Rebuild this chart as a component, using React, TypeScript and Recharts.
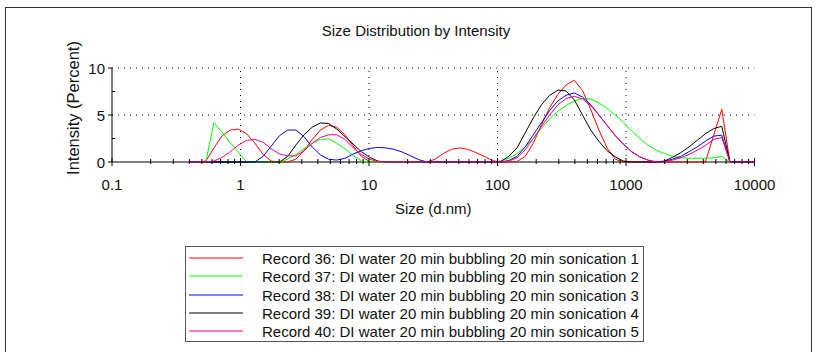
import React from 'react';
import { LineChart, Line, XAxis, YAxis, ReferenceLine, Legend, Label } from 'recharts';

// Size classes (d.nm) of the distribution
const sizes = [
  0.4, 0.4632, 0.5365, 0.6213, 0.7195, 0.8332, 0.9649, 1.117, 1.294, 1.499,
  1.736, 2.01, 2.328, 2.696, 3.122, 3.615, 4.187, 4.849, 5.615, 6.503,
  7.531, 8.721, 10.1, 11.7, 13.54, 15.69, 18.17, 21.04, 24.36, 28.21,
  32.67, 37.84, 43.82, 50.75, 58.77, 68.06, 78.82, 91.28, 105.7, 122.4,
  141.8, 164.2, 190.1, 220.2, 255, 295.3, 342, 396.1, 458.7, 531.2,
  615.1, 712.4, 825, 955.4, 1106, 1281, 1484, 1718, 1990, 2305,
  2669, 3091, 3580, 4145, 4801, 5560, 6439, 7456, 8635, 10000,
];

// Intensity (%) per size class for each record
const record36 = [
  0, 0, 0.1, 1.5, 2.8, 3.4, 3.5, 3.0, 2.0, 0.8,
  0.1, 0, 0, 0.3, 1.2, 2.4, 3.4, 3.9, 3.7, 2.9,
  1.7, 0.6, 0.05, 0, 0, 0, 0, 0, 0, 0,
  0.3, 0.9, 1.35, 1.5, 1.35, 1.0, 0.6, 0.15, 0, 0,
  0.05, 0.6, 2.0, 4.0, 5.8, 7.2, 8.2, 8.7, 7.6, 5.6,
  3.4, 1.5, 0.3, 0, 0, 0, 0, 0, 0, 0,
  0, 0, 0, 0, 2.8, 5.6, 0, 0, 0, 0,
];
const record37 = [
  0, 0, 0, 4.2, 3.15, 2.05, 1.0, 0, 0, 0,
  0, 0, 0.3, 0.8, 1.4, 2.0, 2.4, 2.45, 2.0, 1.4,
  0.7, 0.1, 0, 0, 0, 0, 0, 0, 0, 0,
  0, 0, 0, 0, 0, 0, 0, 0, 0.1, 0.4,
  0.9, 1.6, 2.5, 3.6, 4.6, 5.4, 6.0, 6.5, 6.75, 6.7,
  6.3, 5.7, 5.0, 4.2, 3.3, 2.5, 1.8, 1.25, 0.9, 0.6,
  0.45, 0.4, 0.4, 0.4, 0.45, 0.6, 0, 0, 0, 0,
];
const record38 = [
  0, 0, 0, 0, 0, 0, 0, 0, 0, 0.6,
  1.7, 2.8, 3.4, 3.4, 2.7, 1.6, 0.75, 0.3, 0.2, 0.4,
  0.85, 1.2, 1.45, 1.55, 1.5, 1.35, 1.05, 0.65, 0.25, 0,
  0, 0, 0, 0, 0, 0, 0, 0, 0, 0.15,
  0.6, 1.6, 2.9, 4.2, 5.5, 6.5, 7.1, 7.35, 6.9, 6.1,
  5.0, 3.9, 2.8, 1.9, 1.1, 0.55, 0.2, 0, 0.05, 0.3,
  0.6, 1.1, 1.6, 2.2, 2.75, 2.85, 0, 0, 0, 0,
];
const record39 = [
  0, 0, 0, 0, 0, 0, 0, 0, 0, 0,
  0, 0, 0.6, 1.8, 2.9, 3.7, 4.15, 4.1, 3.5, 2.7,
  1.9, 1.1, 0.5, 0.1, 0, 0, 0, 0, 0, 0,
  0, 0, 0, 0, 0, 0, 0, 0, 0.05, 0.6,
  1.5, 3.1, 4.7, 6.1, 7.1, 7.65, 7.55, 6.6, 5.0, 3.4,
  2.2, 1.2, 0.55, 0.1, 0, 0, 0, 0, 0.1, 0.5,
  1.0, 1.6, 2.3, 3.0, 3.55, 3.8, 0, 0, 0, 0,
];
const record40 = [
  0, 0, 0, 0.1, 0.5, 1.1, 1.8, 2.3, 2.4, 2.1,
  1.4, 0.85, 0.65, 0.65, 1.2, 2.0, 2.6, 2.9, 2.9, 2.4,
  1.5, 0.8, 0.3, 0.05, 0, 0, 0, 0, 0, 0,
  0, 0, 0, 0, 0, 0, 0, 0, 0, 0.1,
  0.45, 1.3, 2.5, 3.8, 5.0, 6.1, 6.75, 7.0, 6.7, 6.0,
  5.0, 3.9, 2.8, 1.85, 1.1, 0.55, 0.2, 0, 0, 0.2,
  0.45, 0.8, 1.25, 1.75, 2.4, 2.6, 0, 0, 0, 0,
];

const seriesNames = [
  'Record 36: DI water 20 min bubbling 20 min sonication 1',
  'Record 37: DI water 20 min bubbling 20 min sonication 2',
  'Record 38: DI water 20 min bubbling 20 min sonication 3',
  'Record 39: DI water 20 min bubbling 20 min sonication 4',
  'Record 40: DI water 20 min bubbling 20 min sonication 5',
];
const seriesKeys = ['r36', 'r37', 'r38', 'r39', 'r40'];
const seriesColors = ['#ff0000', '#00ff00', '#0000ff', '#000000', '#ff0080'];

const xMajorTicks = [0.1, 1, 10, 100, 1000, 10000];
const xMinorSteps = [2, 3, 4, 5, 6, 7, 8, 9];
const xGridLines = [1, 10, 100, 1000];
const yMajorTicks = [0, 5, 10];
const yMinorTicks = [2.5, 7.5];
const yGridLines = [5, 10];

const rows = sizes.map((size, i) => ({
  size,
  r36: record36[i],
  r37: record37[i],
  r38: record38[i],
  r39: record39[i],
  r40: record40[i],
}));

const xTicks = [
  ...xMajorTicks,
  ...xMajorTicks.slice(0, -1).flatMap((d) => xMinorSteps.map((s) => +(d * s).toPrecision(3))),
].sort((a, b) => a - b);
const yTicks = [...yMajorTicks, ...yMinorTicks].sort((a, b) => a - b);

const FONT = '"Liberation Sans", Arial, sans-serif';
const TEXT = '#111';

// layer hints (ignored by Recharts builds without z-index support)
const under = { zIndex: 100 } as any;
const axisLayer = { zIndex: 300 } as any;
const over = { zIndex: 600 } as any;

const XTick = (props: any) => {
  const { x, y, payload } = props;
  const major = xMajorTicks.includes(payload.value);
  return (
    <g>
      {major ? (
        <line x1={x} x2={x} y1={y - 4} y2={y + 4} stroke="#000" />
      ) : (
        <line x1={x} x2={x} y1={y - 3} y2={y + 2} stroke="#000" />
      )}
      {major && (
        <text x={x} y={y + 22} textAnchor="middle" dominantBaseline="central" fontSize={15} fontFamily={FONT} fill={TEXT}>
          {payload.value}
        </text>
      )}
    </g>
  );
};

const YTick = (props: any) => {
  const { x, y, payload } = props;
  const major = yMajorTicks.includes(payload.value);
  return (
    <g>
      {major ? (
        <line x1={x - 4} x2={x} y1={y} y2={y} stroke="#000" />
      ) : (
        <line x1={x} x2={x + 3} y1={y} y2={y} stroke="#000" />
      )}
      {major && (
        <text x={x - 7} y={y} textAnchor="end" dominantBaseline="central" fontSize={15} fontFamily={FONT} fill={TEXT}>
          {payload.value}
        </text>
      )}
    </g>
  );
};

const LegendBox = () => (
  <div
    style={{
      position: 'relative',
      width: 457,
      height: 94,
      border: '1px solid #555',
      background: '#fff',
      fontFamily: FONT,
      fontSize: 15,
      color: TEXT,
    }}
  >
    {seriesNames.map((name, i) => (
      <div key={name} style={{ position: 'absolute', left: 0, top: Math.round(11 + i * 18.25) - 9, height: 18, width: 457 }}>
        <svg width={60} height={18} style={{ position: 'absolute', left: 0, top: 0 }}>
          <line x1={3} x2={57} y1={9} y2={9} stroke={seriesColors[i]} strokeWidth={1} />
        </svg>
        <span style={{ position: 'absolute', left: 76, top: 0, lineHeight: '19px', whiteSpace: 'nowrap' }}>{name}</span>
      </div>
    ))}
  </div>
);

export default function App() {
  return (
    <div style={{ position: 'absolute', left: 0, top: 0, width: 818, height: 352, background: '#fff', overflow: 'hidden' }}>
      <div
        style={{
          position: 'absolute',
          left: 5,
          top: 7,
          width: 807,
          height: 360,
          border: '1px solid #333',
          boxSizing: 'border-box',
        }}
      />
      <div
        style={{
          position: 'absolute',
          left: 0,
          width: 832,
          top: 22,
          textAlign: 'center',
          fontFamily: FONT,
          fontSize: 15,
          color: TEXT,
          lineHeight: '18px',
        }}
      >
        Size Distribution by Intensity
      </div>
      <div style={{ position: 'absolute', left: 0, top: 0 }}>
        <LineChart width={818} height={352} data={rows} margin={{ top: 68, right: 63.5, bottom: 160, left: 52 }}>
          {xGridLines.map((v) => (
            <ReferenceLine key={`gx${v}`} x={v} stroke="#000" strokeDasharray="1 5" {...under} />
          ))}
          {yGridLines.map((v) => (
            <ReferenceLine key={`gy${v}`} y={v} stroke="#000" strokeDasharray="1 5" {...under} />
          ))}
          <XAxis
            dataKey="size"
            type="number"
            scale="log"
            domain={[0.1, 10000]}
            ticks={xTicks}
            interval={0}
            tick={<XTick />}
            tickLine={false}
            tickSize={0}
            tickMargin={0}
            height={30}
            stroke="#000"
            allowDataOverflow
            {...axisLayer}
          >
            <Label
              content={(p: any) => (
                <text
                  x={p.viewBox.x + p.viewBox.width / 2}
                  y={208}
                  textAnchor="middle"
                  dominantBaseline="central"
                  fontSize={15}
                  fontFamily={FONT}
                  fill={TEXT}
                >
                  Size (d.nm)
                </text>
              )}
            />
          </XAxis>
          <YAxis
            type="number"
            domain={[0, 10]}
            ticks={yTicks}
            interval={0}
            tick={<YTick />}
            tickLine={false}
            tickSize={0}
            tickMargin={0}
            width={60}
            stroke="#000"
            {...axisLayer}
          >
            <Label
              content={() => (
                <text
                  x={73}
                  y={108}
                  textAnchor="middle"
                  dominantBaseline="central"
                  fontSize={16.5}
                  fontFamily={FONT}
                  fill={TEXT}
                  transform="rotate(-90, 73, 108)"
                >
                  Intensity (Percent)
                </text>
              )}
            />
          </YAxis>
          {seriesKeys.map((k, i) => (
            <Line
              key={k}
              dataKey={k}
              name={seriesNames[i]}
              stroke={seriesColors[i]}
              strokeWidth={1}
              dot={false}
              activeDot={false}
              type="linear"
              isAnimationActive={false}
              {...over}
            />
          ))}
          <Legend
            layout="horizontal"
            verticalAlign="middle"
            align="center"
            width={459}
            height={96}
            wrapperStyle={{ left: 185, top: 246, width: 459, height: 96 }}
            content={<LegendBox />}
          />
        </LineChart>
      </div>
    </div>
  );
}
